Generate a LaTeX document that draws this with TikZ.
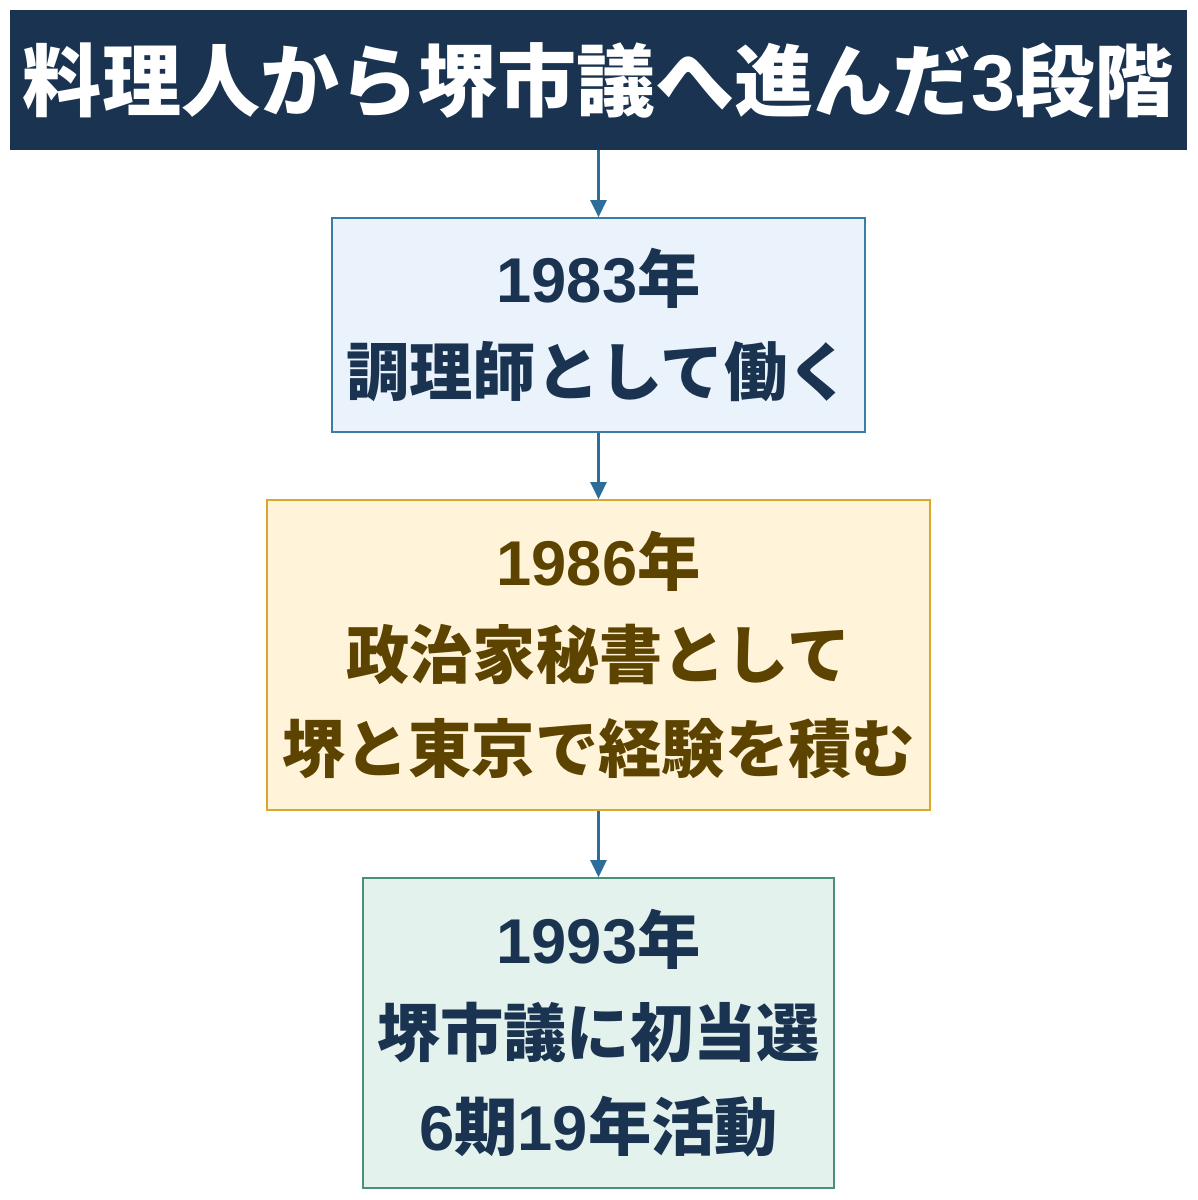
\documentclass[tikz,border=0pt]{standalone}
\usepackage{fontspec}
\setmainfont{Noto Sans CJK JP}
\newfontfamily\latin{Liberation Sans}
\usepackage{tikz}
\usetikzlibrary{arrows.meta,positioning}
\definecolor{navy}{HTML}{1A3350}
\definecolor{flowblue}{HTML}{2C6E99}
\definecolor{bluefill}{HTML}{EAF3FB}
\definecolor{blueline}{HTML}{3A7CA5}
\definecolor{goldfill}{HTML}{FFF3D9}
\definecolor{goldline}{HTML}{D9A82E}
\definecolor{goldtext}{HTML}{5C4300}
\definecolor{greenfill}{HTML}{E3F2EC}
\definecolor{greenline}{HTML}{4A8F7A}

\begin{document}
\begin{tikzpicture}[
  stage font/.style={font=\fontsize{36}{53}\selectfont\bfseries},
  flow/.style={draw=flowblue, line width=1.4pt, -{Triangle[length=0.34cm,width=0.32cm]}}
  ]
  \tikzstyle{title box}=[fill=navy, text=white, inner sep=0, minimum width=23.54cm, minimum height=2.8cm, font=\fontsize{45}{54}\selectfont\bfseries]
  \tikzstyle{stage box}=[draw, line width=0.9pt, inner sep=0, align=center, stage font]
  \useasboundingbox (0,0) rectangle (23.94,24);
  \node(title)[title box] at (11.97,22.4) {料理人から堺市議へ進んだ{\latin 3}段階};
  \node(cook)[stage box, fill=bluefill, draw=blueline, text=navy,
      minimum width=10.66cm, minimum height=4.28cm] at (11.97,17.5)
      {{\latin 1983}年\\調理師として働く};
  \node(secretary)[stage box, fill=goldfill, draw=goldline, text=goldtext,
      minimum width=13.26cm, minimum height=6.2cm] at (11.97,10.9)
      {{\latin 1986}年\\政治家秘書として\\堺と東京で経験を積む};
  \node(council)[stage box, fill=greenfill, draw=greenline, text=navy,
      minimum width=9.42cm, minimum height=6.2cm] at (11.97,3.34)
      {{\latin 1993}年\\堺市議に初当選\\{\latin 6}期{\latin 19}年活動};
  % connectors
  \draw[flow] (title) -- (cook);
  \draw[flow] (cook) -- (secretary);
  \draw[flow] (secretary) -- (council);
\end{tikzpicture}
\end{document}
